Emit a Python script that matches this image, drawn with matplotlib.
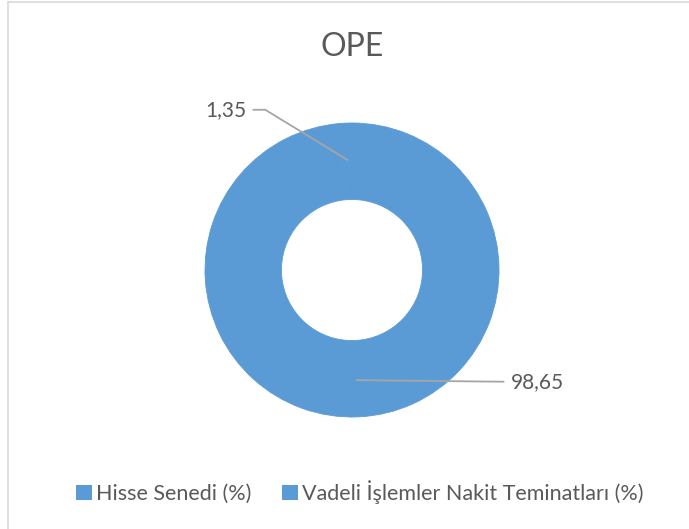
import numpy as np
import matplotlib
matplotlib.use('Agg')
import matplotlib.pyplot as plt
from matplotlib.patches import Rectangle, Patch

plt.rcParams['font.family'] = ['Lato', 'DejaVu Sans']

# Veriler
title = 'OPE'
categories = ['Hisse Senedi (%)', 'Vadeli İşlemler Nakit Teminatları (%)']
values = [1.35, 98.65]
value_labels = ['1,35', '98,65']

blue = '#5B9BD5'
text_color = '#595959'
line_color = '#A5A5A5'

W, H = 689, 529
fig = plt.figure(figsize=(W / 100, H / 100), dpi=100)

# çerçeve (sağ ve alt kenar resmin dışında kalıyor)
fig.patches.append(Rectangle((8 / W, -0.1), 1.2, 1 - 2 / H + 0.1, transform=fig.transFigure,
                             fill=False, edgecolor='#D9D9D9', linewidth=1.2))

# halka grafiği: merkez (352, 270) px, yarıçap 147 px
cx, cy, r = 352, 270, 147
ax = fig.add_axes([(cx - r) / W, (H - cy - r) / H, 2 * r / W, 2 * r / H])
wedges, _ = ax.pie(values, colors=[blue, blue], startangle=90, counterclock=True,
                   radius=1, wedgeprops=dict(width=0.52, edgecolor=blue, linewidth=0.6))
ax.set_xlim(-1, 1)
ax.set_ylim(-1, 1)
ax.set_aspect('equal')
ax.axis('off')

# etiketler ve kılavuz çizgileri
label_ends = [(-0.67, 1.09), (1.03, -0.76)]
for w, lab, (ex, ey) in zip(wedges, value_labels, label_ends):
    ang = np.deg2rad((w.theta1 + w.theta2) / 2)
    px, py = 0.75 * np.cos(ang), 0.75 * np.sin(ang)
    if ex < 0:
        xs = [px, ex + 0.08, ex]
        ys = [py, ey, ey]
        ax.plot(xs, ys, color=line_color, lw=1.3, clip_on=False)
        ax.text(ex - 0.05, ey, lab, ha='right', va='center', fontsize=15, color=text_color)
    else:
        ax.plot([px, ex], [py, ey], color=line_color, lw=1.3, clip_on=False)
        ax.text(ex + 0.05, ey, lab, ha='left', va='center', fontsize=15, color=text_color)

fig.text(cx / W, 1 - 47 / H, title, ha='center', va='center', fontsize=23, color=text_color)

handles = [Patch(facecolor=blue, edgecolor='none') for _ in categories]
fig.legend(handles, categories, loc='center', bbox_to_anchor=(360 / W, 1 - 492 / H),
           ncol=2, frameon=False, fontsize=15.5, labelcolor=text_color,
           handlelength=0.75, handleheight=0.75, handletextpad=0.2, columnspacing=1.4)

fig.savefig('out.png', dpi=100)
